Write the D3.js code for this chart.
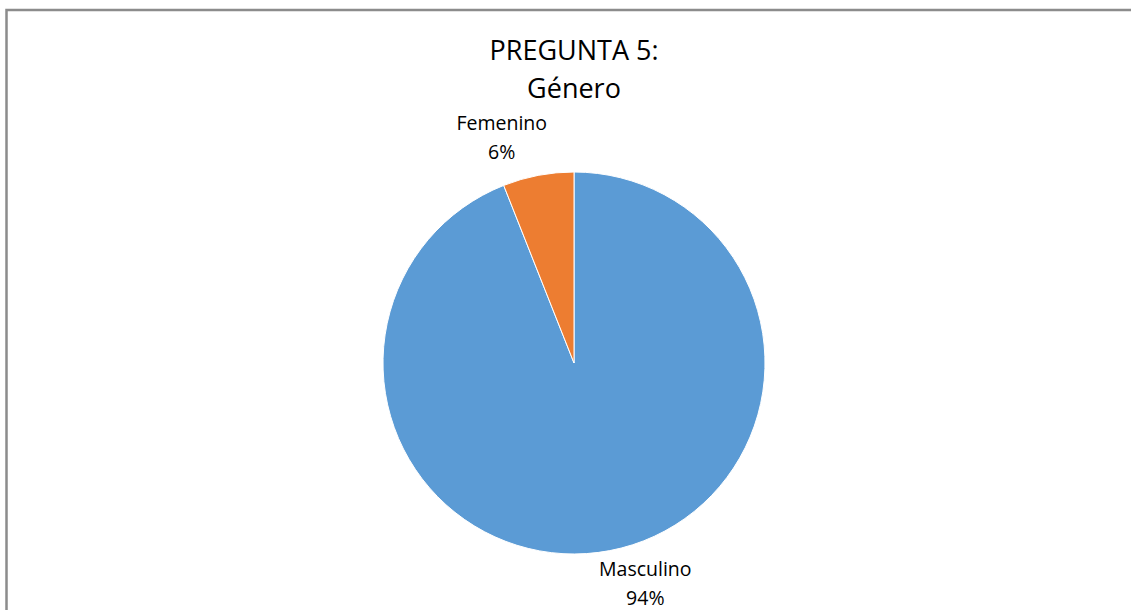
<!DOCTYPE html>
<html lang="es">
<head>
<meta charset="UTF-8">
<title>PREGUNTA 5: Género</title>
<script src="https://cdn.jsdelivr.net/npm/d3@7"></script>
<style>
  body { margin: 0; background: #fff; }
  text { font-family: "Open Sans", "Noto Sans", sans-serif; fill: #000; }
</style>
</head>
<body>
<div id="box"></div>
<script>
  // datos
  var categorias = ["Masculino", "Femenino"];
  var valores = [94, 6];
  var colores = ["#5B9BD5", "#ED7D31"];
  var titulo = ["PREGUNTA 5:", "Género"];

  let width = 1131,
      height = 610;
  let cx = 574, cy = 363, radio = 191;

  const svg = d3.select("#box")
    .append("svg")
    .attr("width", width)
    .attr("height", height);

  // marco del area del grafico
  svg.append("rect")
    .attr("x", 6.5).attr("y", 10)
    .attr("width", width + 10).attr("height", height + 10)
    .attr("fill", "none")
    .attr("stroke", "#8c8c8c")
    .attr("stroke-width", 2.5);

  // titulo
  svg.append("g").selectAll("text")
    .data(titulo)
    .enter().append("text")
    .attr("x", cx)
    .attr("y", (d, i) => 60 + i * 38)
    .attr("text-anchor", "middle")
    .style("font-size", "27px")
    .text(d => d);

  const pie = d3.pie().sort(null).value(d => d);
  const arc = d3.arc().innerRadius(0).outerRadius(radio);
  const arcs = pie(valores);

  const g = svg.append("g").attr("transform", `translate(${cx},${cy})`);

  g.selectAll("path")
    .data(arcs)
    .enter().append("path")
    .attr("d", arc)
    .attr("fill", (d, i) => colores[i])
    .attr("stroke", "#fff")
    .attr("stroke-width", 1);

  // etiquetas fuera del pastel
  const total = d3.sum(valores);
  const arcEtiq = d3.arc().innerRadius(radio + 40).outerRadius(radio + 40);
  const ajuste = [[28, 0], [-29, 7.5]]; // corrimiento a mano, como en excel

  const etiq = g.selectAll("g.etiq")
    .data(arcs)
    .enter().append("g")
    .attr("class", "etiq")
    .attr("transform", (d, i) => {
      let p = arcEtiq.centroid(d);
      return `translate(${p[0] + ajuste[i][0]},${p[1] + ajuste[i][1]})`;
    });

  etiq.append("text")
    .attr("text-anchor", "middle")
    .attr("y", -14)
    .style("font-size", "19.5px")
    .text((d, i) => categorias[i]);

  etiq.append("text")
    .attr("text-anchor", "middle")
    .attr("y", 15)
    .style("font-size", "19.5px")
    .text(d => Math.round(d.value / total * 100) + "%");
</script>
</body>
</html>
